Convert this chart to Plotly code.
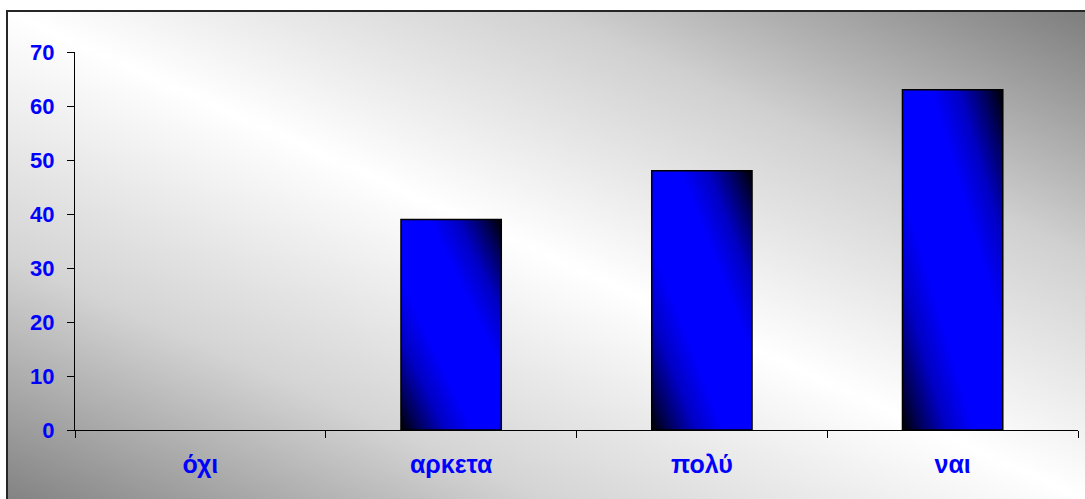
import base64
import plotly.graph_objects as go

categories = ["όχι", "αρκετα", "πολύ", "ναι"]
values = [0, 39, 48, 63]
y_ticks = [0, 10, 20, 30, 40, 50, 60, 70]

W, H = 1085, 499
ML, MR, MT, MB = 75, 7, 52, 69
PW, PH = W - ML - MR, H - MT - MB
Y_MAX = 70
BAR_W = 0.4


def px_x(px):
    return (px - ML) / PW


def px_y(py):
    return (H - MB - py) / PH


def svg_uri(svg):
    return "data:image/svg+xml;base64," + base64.b64encode(svg.encode("utf-8")).decode("ascii")


BG_STOPS = [(0, "#838383"), (0.25, "#d4d4d4"), (0.5, "#ffffff"), (0.75, "#d0d0d0"), (1, "#7e7e7e")]
BAR_STOPS = [
    (0, "#000000"), (0.1, "#000060"), (0.22, "#0000c4"), (0.36, "#0000ff"),
    (0.64, "#0000ff"), (0.78, "#0000c4"), (0.9, "#000060"), (1, "#000000"),
]


def diag_svg(w, h, stops):
    """Gradient from bottom-left to top-right corner; contours parallel to the TL-BR diagonal."""
    w, h = max(int(round(w)), 1), max(int(round(h)), 1)
    d2 = w * w + h * h
    nx, ny = h, -w
    s = (w * nx + (-h) * ny) / d2
    x2, y2 = s * nx, h + s * ny
    stop_xml = "".join(f'<stop offset="{o}" stop-color="{c}"/>' for o, c in stops)
    return (
        f'<svg xmlns="http://www.w3.org/2000/svg" width="{w}" height="{h}" viewBox="0 0 {w} {h}">'
        f'<defs><linearGradient id="g" gradientUnits="userSpaceOnUse" x1="0" y1="{h}" x2="{x2:.3f}" y2="{y2:.3f}">'
        f'{stop_xml}</linearGradient></defs>'
        f'<rect x="0" y="0" width="{w}" height="{h}" fill="url(#g)"/></svg>'
    )


images = [
    dict(
        source=svg_uri(diag_svg(W - 8, H - 12, BG_STOPS)), xref="paper", yref="paper",
        x=px_x(8), y=px_y(12), sizex=px_x(W) - px_x(8), sizey=px_y(12) - px_y(H),
        xanchor="left", yanchor="top", sizing="stretch", layer="below",
    )
]
for i, v in enumerate(values):
    if v > 0:
        bw_px = BAR_W * PW / len(categories)
        bh_px = v * PH / Y_MAX
        images.append(dict(
            source=svg_uri(diag_svg(bw_px, bh_px, BAR_STOPS)), xref="x", yref="y",
            x=i - BAR_W / 2, y=v, sizex=BAR_W, sizey=v,
            xanchor="left", yanchor="top", sizing="stretch", layer="below",
        ))

fig = go.Figure()
fig.add_trace(go.Bar(
    x=categories, y=values, width=BAR_W,
    marker=dict(
        color="rgba(0,0,0,0)",
        line=dict(color="#000000", width=[1.5 if v > 0 else 0 for v in values]),
    ),
    hoverinfo="x+y",
))

y_font = dict(family="Liberation Sans, Arial, sans-serif", size=22, color="#0000ff", weight="bold")
x_font = dict(family="Liberation Sans, Arial, sans-serif", size=25, color="#0000ff", weight="bold")

fig.update_layout(
    width=W, height=H,
    margin=dict(l=ML, r=MR, t=MT, b=MB),
    paper_bgcolor="#ffffff",
    plot_bgcolor="rgba(0,0,0,0)",
    showlegend=False,
    images=images,
    shapes=[dict(
        type="rect", xref="paper", yref="paper",
        x0=px_x(7), y0=px_y(H + 10), x1=px_x(W + 10), y1=px_y(11),
        line=dict(color="#262626", width=2), fillcolor="rgba(0,0,0,0)", layer="above",
    )],
    xaxis=dict(
        type="category", range=[-0.5, 3.5],
        showline=True, linecolor="#000000", linewidth=1,
        ticks="outside", ticklen=7, tickcolor="#000000", tickwidth=1,
        tickson="boundaries", showgrid=False, zeroline=False,
        tickfont=x_font, ticklabelstandoff=12,
    ),
    yaxis=dict(
        range=[0, Y_MAX], tickvals=y_ticks, ticktext=[str(t) for t in y_ticks],
        showline=True, linecolor="#000000", linewidth=1,
        ticks="outside", ticklen=7, tickcolor="#000000", tickwidth=1,
        showgrid=False, zeroline=False,
        tickfont=y_font, ticklabelstandoff=8,
    ),
)

fig.write_html("out.html")
